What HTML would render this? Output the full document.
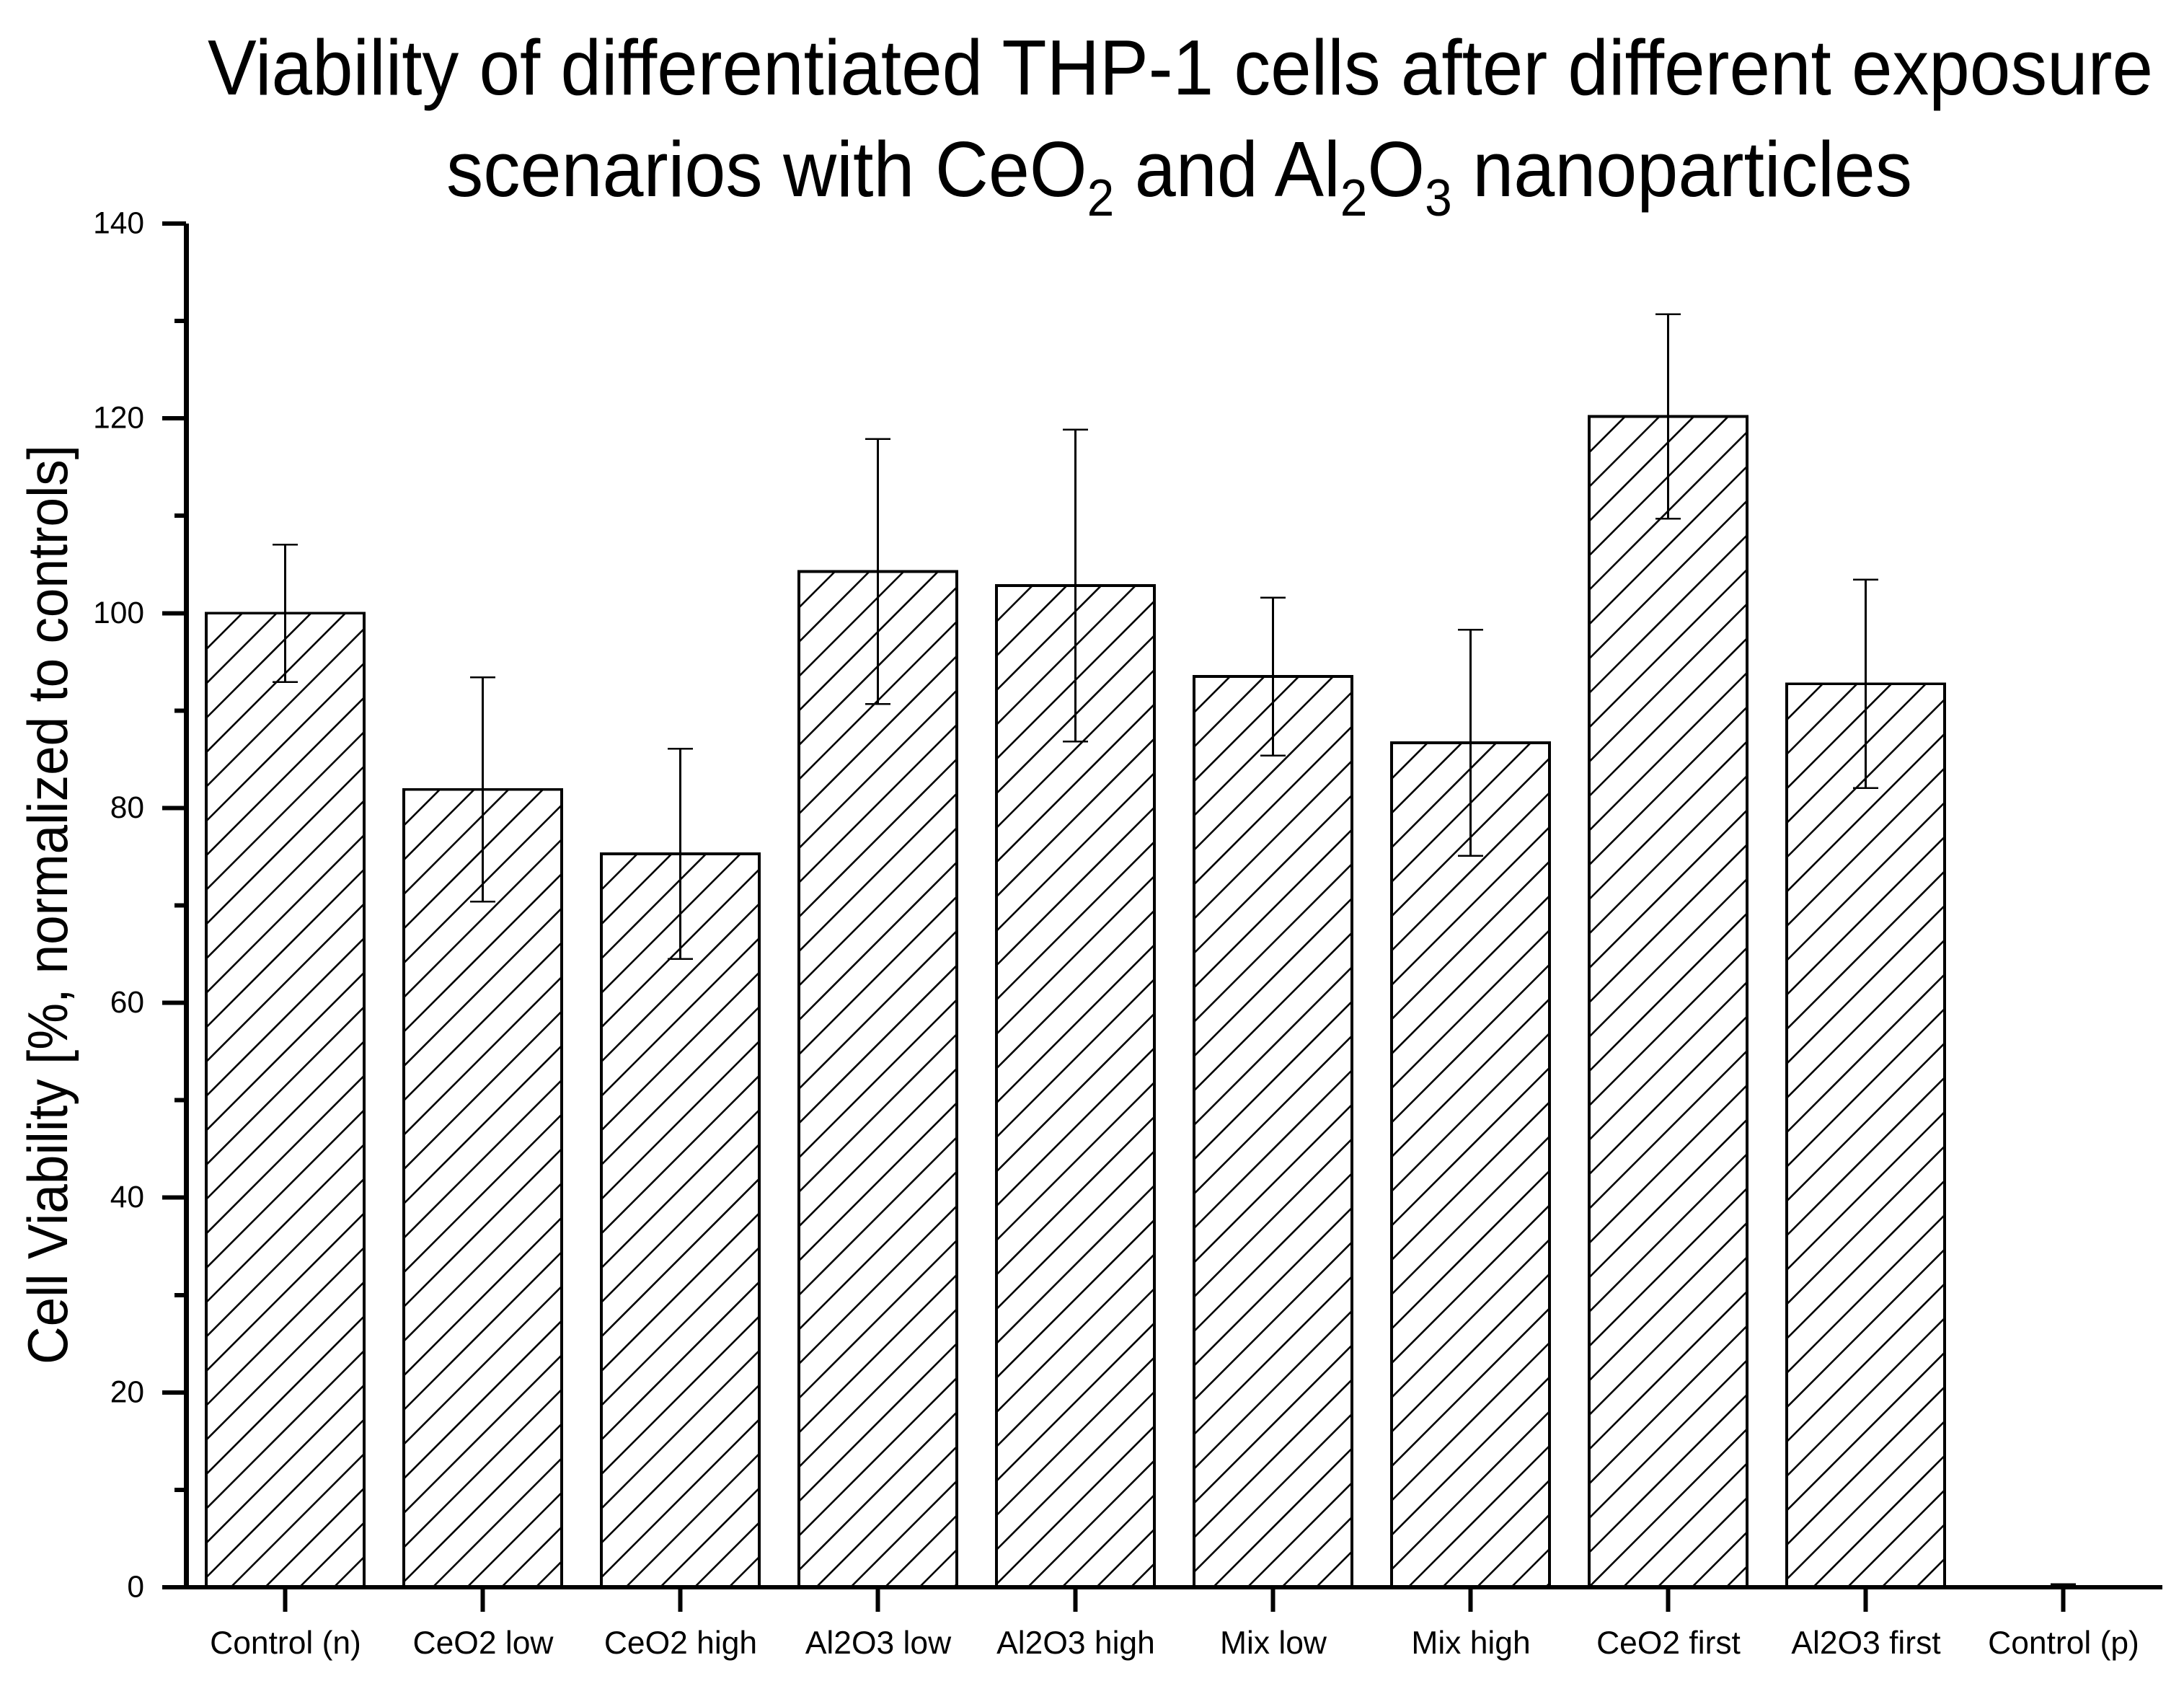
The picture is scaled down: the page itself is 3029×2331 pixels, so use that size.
<!DOCTYPE html>
<html lang="en">
<head>
<meta charset="utf-8">
<title>Viability of differentiated THP-1 cells</title>
<style>
html,body{margin:0;padding:0;background:#fff;}
svg{display:block;}
text{font-family:"Liberation Sans",Arial,sans-serif;fill:#000;}
</style>
</head>
<body>
<svg id="chart" xmlns="http://www.w3.org/2000/svg" width="3029" height="2331" viewBox="0 0 3029 2331">
  <rect x="0" y="0" width="3029" height="2331" fill="#fff"/>
  <text x="288" y="131" font-size="109" textLength="2698" lengthAdjust="spacingAndGlyphs">Viability of differentiated THP-1 cells after different exposure</text>
  <text x="619" y="272" font-size="109" textLength="2033" lengthAdjust="spacingAndGlyphs">scenarios with CeO<tspan font-size="72" dy="27">2</tspan><tspan dy="-27"> and Al</tspan><tspan font-size="72" dy="27">2</tspan><tspan dy="-27">O</tspan><tspan font-size="72" dy="27">3</tspan><tspan dy="-27"> nanoparticles</tspan></text>
  <text transform="translate(93,1892) rotate(-90)" x="0" y="0" font-size="78" textLength="1275" lengthAdjust="spacingAndGlyphs">Cell Viability [%, normalized to controls]</text>
  <g id="bars"></g>
  <g id="axes"></g>
</svg>
<script>
const categories = ["Control (n)", "CeO2 low", "CeO2 high", "Al2O3 low", "Al2O3 high", "Mix low", "Mix high", "CeO2 first", "Al2O3 first", "Control (p)"];
const viability = [100, 81.9, 75.3, 104.27, 102.84, 93.5, 86.7, 120.2, 92.75, 0];
const errors = [7.05, 11.5, 10.8, 13.6, 16, 8.1, 11.6, 10.5, 10.7, 0.3];
const yMajorTicks = [0, 20, 40, 60, 80, 100, 120, 140];
const yMinorTicks = [10, 30, 50, 70, 90, 110, 130];

const SVG_NS = "http://www.w3.org/2000/svg";
const barsGroup = document.getElementById("bars");
const axesGroup = document.getElementById("axes");

const Y_ZERO = 2201;
const Y_UNIT = 13.507;
const X_FIRST = 395.5;
const X_STEP = 274;
const BAR_WIDTH = 219;
const HATCH_SPACING = 47.67;
const HATCH_OFFSET = 2.3;
const CAP_HALF = 17.5;

function yScale(v) { return Y_ZERO - v * Y_UNIT; }
function xScale(i) { return X_FIRST + i * X_STEP; }

function line(parent, x1, y1, x2, y2, width, crisp) {
  const el = document.createElementNS(SVG_NS, "line");
  el.setAttribute("x1", x1);
  el.setAttribute("y1", y1);
  el.setAttribute("x2", x2);
  el.setAttribute("y2", y2);
  el.setAttribute("stroke", "#000");
  el.setAttribute("stroke-width", width);
  if (crisp) el.setAttribute("shape-rendering", "crispEdges");
  parent.appendChild(el);
  return el;
}

function label(parent, x, y, size, anchor, content) {
  const el = document.createElementNS(SVG_NS, "text");
  el.setAttribute("x", x);
  el.setAttribute("y", y);
  el.setAttribute("font-size", size);
  el.setAttribute("text-anchor", anchor);
  el.textContent = content;
  parent.appendChild(el);
  return el;
}

categories.forEach(function (cat, i) {
  const slug = cat.toLowerCase().replace(/[^a-z0-9]+/g, "-").replace(/-$/, "");
  const cx = xScale(i);
  const left = cx - BAR_WIDTH / 2;
  const right = cx + BAR_WIDTH / 2;
  const top = yScale(viability[i]);

  const g = document.createElementNS(SVG_NS, "g");
  
  
  barsGroup.appendChild(g);

  const rect = document.createElementNS(SVG_NS, "rect");
  rect.setAttribute("x", left);
  rect.setAttribute("y", top);
  rect.setAttribute("width", BAR_WIDTH);
  rect.setAttribute("height", Y_ZERO - top);
  rect.setAttribute("fill", "#fff");
  
  
  g.appendChild(rect);

  const hatch = document.createElementNS(SVG_NS, "g");
  
  
  g.appendChild(hatch);
  if (viability[i] > 0) {
    for (let s = left + top + HATCH_OFFSET; s < right + Y_ZERO; s += HATCH_SPACING) {
      const x1 = Math.max(left, s - Y_ZERO);
      const x2 = Math.min(right, s - top);
      if (x2 > x1) {
        const h = line(hatch, x1, s - x1, x2, s - x2, 2.6, false);
        
        
      }
    }
  }

  const outline = document.createElementNS(SVG_NS, "rect");
  outline.setAttribute("x", left);
  outline.setAttribute("y", top);
  outline.setAttribute("width", BAR_WIDTH);
  outline.setAttribute("height", Y_ZERO - top);
  outline.setAttribute("fill", "none");
  outline.setAttribute("stroke", "#000");
  outline.setAttribute("stroke-width", 3.8);
  outline.setAttribute("shape-rendering", "crispEdges");
  
  
  g.appendChild(outline);

  const errTop = yScale(viability[i] + errors[i]);
  const errBottom = yScale(Math.max(0, viability[i] - errors[i]));
  const stem = line(g, cx, errTop, cx, errBottom, 3, true);
  
  
  const capTop = line(g, cx - CAP_HALF, errTop, cx + CAP_HALF, errTop, 2.5, true);
  
  
  const capBottom = line(g, cx - CAP_HALF, errBottom, cx + CAP_HALF, errBottom, 2.5, true);
  
  

  const tick = line(axesGroup, cx, Y_ZERO, cx, 2235, 6, true);
  
  
  const tl = label(axesGroup, cx + 0.5, 2293, 44.4, "middle", cat);
  
  
});

const yAxisLine = line(axesGroup, 258.5, yScale(140), 258.5, Y_ZERO, 7, true);



const xAxisLine = line(axesGroup, 225, Y_ZERO, 2999, Y_ZERO, 6, true);



yMajorTicks.forEach(function (v) {
  const y = yScale(v);
  const t = line(axesGroup, 225, y, 258, y, 6, true);
  
  
  const l = label(axesGroup, 200, y + 13.5, 42.5, "end", String(v));
  
  
});

yMinorTicks.forEach(function (v) {
  const y = yScale(v);
  const t = line(axesGroup, 242, y, 258, y, 6, true);
  
  
});
</script>
</body>
</html>
